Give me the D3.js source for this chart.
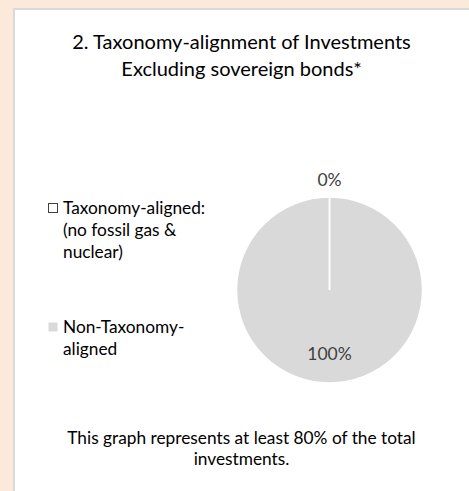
<!DOCTYPE html>
<html><head><meta charset="utf-8">
<script src="https://cdn.jsdelivr.net/npm/d3@7"></script>
<style>
html,body{margin:0;padding:0;background:#FBE9DA;}
svg{display:block;}
text{font-family:Lato,"Open Sans",sans-serif;}
</style></head>
<body>
<script>
const categories = ["Taxonomy-aligned: (no fossil gas & nuclear)", "Non-Taxonomy-aligned"];
const legendLines = [["Taxonomy-aligned:", "(no fossil gas &", "nuclear)"], ["Non-Taxonomy-", "aligned"]];
const values = [0, 100];
const valueLabels = ["0%", "100%"];
const titleLines = ["2. Taxonomy-alignment of Investments", "Excluding sovereign bonds*"];
const footnoteLines = ["This graph represents at least 80% of the total", "investments."];
const colors = ["#FFFFFF", "#D9D9D9"];

const W = 469, H = 491;
const svg = d3.select("body").append("svg").attr("width", W).attr("height", H);

// panel
svg.append("rect").attr("x", 14).attr("y", 9).attr("width", W - 14 + 5).attr("height", H)
  .attr("fill", "#fff").attr("stroke", "#D9D9D9").attr("stroke-width", 2);

const cx = 241.5;
svg.append("text").attr("text-anchor", "middle").attr("font-size", 20).attr("fill", "#000")
  .selectAll("tspan").data(titleLines).join("tspan")
  .attr("x", cx).attr("y", (d, i) => 49 + i * 26.5).text(d => d);

// pie
const pcx = 329.5, pcy = 290, r = 93;
const pie = d3.pie().sort(null).value(d => d)(values);
const arc = d3.arc().innerRadius(0).outerRadius(r);
const g = svg.append("g").attr("transform", `translate(${pcx},${pcy})`);
g.selectAll("path").data(pie).join("path")
  .attr("d", arc).attr("fill", (d, i) => colors[i])
  .attr("stroke", "#fff").attr("stroke-width", 1.5);
// slice separators
g.selectAll("line.sep").data(pie).join("line").attr("class", "sep")
  .attr("x1", 0).attr("y1", 0)
  .attr("x2", d => r * Math.sin(d.startAngle)).attr("y2", d => -r * Math.cos(d.startAngle))
  .attr("stroke", "#fff").attr("stroke-width", 1.5);

const outArc = d3.arc().innerRadius(r * 1.19).outerRadius(r * 1.19);
const inArc = d3.arc().innerRadius(r * 0.68).outerRadius(r * 0.68);
g.selectAll("text.lbl").data(pie).join("text").attr("class", "lbl")
  .attr("text-anchor", "middle").attr("dominant-baseline", "central")
  .attr("font-size", 17.5).attr("fill", "#404040")
  .attr("transform", (d, i) => {
    const c = (d.value === 0 ? outArc : inArc).centroid(d);
    return `translate(${c[0]},${c[1]})`;
  })
  .text((d, i) => valueLabels[i]);

// legend
const lg = svg.append("g");
const legendTop = [214, 333];
legendLines.forEach((lines, i) => {
  lg.append("rect").attr("x", 48.5).attr("y", legendTop[i] - 10.5).attr("width", 9).attr("height", 9)
    .attr("fill", colors[i]).attr("stroke", i === 0 ? "#404040" : "none").attr("stroke-width", 1);
  lg.append("text").attr("font-size", 17.3).attr("fill", "#000")
    .selectAll("tspan").data(lines).join("tspan")
    .attr("x", 63).attr("y", (d, j) => legendTop[i] + j * 22).text(d => d);
});

// footnote
svg.append("text").attr("text-anchor", "middle").attr("font-size", 17.3).attr("fill", "#000")
  .selectAll("tspan").data(footnoteLines).join("tspan")
  .attr("x", cx).attr("y", (d, i) => 444 + i * 21).text(d => d);
</script>
</body></html>
